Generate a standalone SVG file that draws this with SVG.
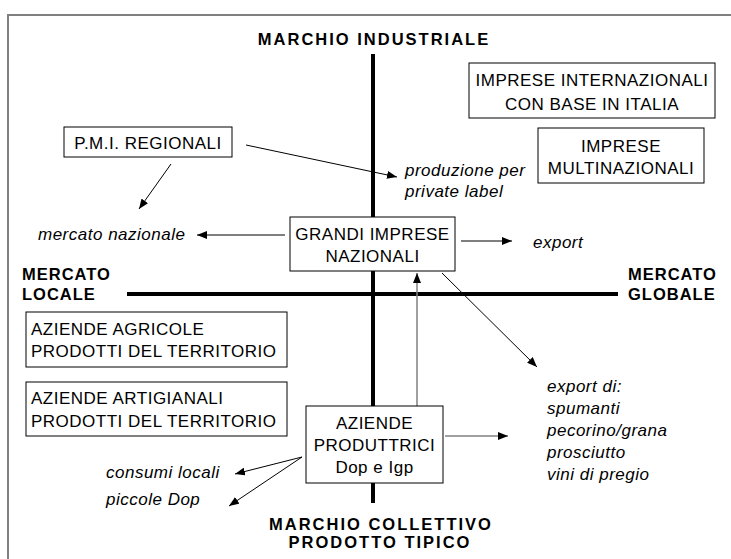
<svg xmlns="http://www.w3.org/2000/svg" width="731" height="559" viewBox="0 0 731 559">
<style>
  .box { fill: #fff; stroke: #000; stroke-width: 1; }
  .t { font-family: "Liberation Sans", Arial, sans-serif; font-size: 17px; letter-spacing: 0.5px; fill: #000; }
  .c { text-anchor: middle; }
  .i { font-family: "Liberation Sans", Arial, sans-serif; font-size: 17px; font-style: italic; letter-spacing: 0.5px; fill: #000; }
  .ax { font-family: "Liberation Sans", Arial, sans-serif; font-size: 16.5px; font-weight: bold; letter-spacing: 2px; fill: #000; }
  .mk { font-family: "Liberation Sans", Arial, sans-serif; font-size: 16.5px; font-weight: bold; letter-spacing: 1px; fill: #000; }
  .axis { stroke: #000; stroke-width: 4; }
  .arr { stroke: #000; stroke-width: 1; fill: none; marker-end: url(#ah); }
  .arrg { stroke: #808080; stroke-width: 1.5; fill: none; marker-end: url(#ah); }
</style>
<defs>
  <marker id="ah" viewBox="0 0 10 8" refX="10" refY="4" markerWidth="10" markerHeight="8" markerUnits="userSpaceOnUse" orient="auto">
    <path d="M0,0 L10,4 L0,8 z" fill="#000"/>
  </marker>
</defs>
<rect width="731" height="559" fill="#fff"/>
<path d="M8,559 V15 H731" fill="none" stroke="#808080" stroke-width="2"/>

<g id="axes">
  <line class="axis" x1="373" y1="54" x2="373" y2="503"/>
  <line class="axis" x1="127" y1="294" x2="618" y2="294"/>
  <text class="ax c" x="374" y="45">MARCHIO INDUSTRIALE</text>
  <text class="ax c" x="381" y="530">MARCHIO COLLETTIVO</text>
  <text class="ax c" x="380" y="548">PRODOTTO TIPICO</text>
  <text class="mk" x="22" y="280">MERCATO</text>
  <text class="mk" x="22" y="300">LOCALE</text>
  <text class="mk" x="628" y="280">MERCATO</text>
  <text class="mk" x="628" y="300">GLOBALE</text>
</g>

<g id="connectors">
  <line class="arr" x1="246" y1="145" x2="397" y2="177"/>
  <line class="arr" x1="171" y1="164" x2="139" y2="209"/>
  <line class="arr" x1="285" y1="235" x2="197" y2="235"/>
  <line class="arr" x1="461" y1="241" x2="512" y2="241"/>
  <line class="arrg" x1="417" y1="406" x2="417" y2="273"/>
  <line class="arr" x1="442" y1="273" x2="537" y2="367"/>
  <line class="arrg" x1="445" y1="436" x2="508" y2="436"/>
  <line class="arr" x1="302" y1="457" x2="235" y2="474"/>
  <line class="arr" x1="302" y1="457" x2="229" y2="506"/>
</g>

<g id="imprese-internazionali">
  <rect class="box" x="469" y="63" width="246" height="55"/>
  <text class="t c" x="592" y="86">IMPRESE INTERNAZIONALI</text>
  <text class="t c" x="592" y="110">CON BASE IN ITALIA</text>
</g>
<g id="imprese-multinazionali">
  <rect class="box" x="538" y="128" width="166" height="55"/>
  <text class="t c" x="621" y="152">IMPRESE</text>
  <text class="t c" x="621" y="174">MULTINAZIONALI</text>
</g>
<g id="pmi-regionali">
  <rect class="box" x="64" y="127" width="168" height="30"/>
  <text class="t c" x="148" y="149">P.M.I. REGIONALI</text>
</g>
<g id="grandi-imprese">
  <rect class="box" x="290" y="217" width="165" height="54"/>
  <text class="t c" x="372.5" y="240">GRANDI IMPRESE</text>
  <text class="t c" x="372.5" y="262">NAZIONALI</text>
</g>
<g id="aziende-agricole">
  <rect class="box" x="26" y="312" width="261" height="55"/>
  <text class="t" x="31" y="335">AZIENDE AGRICOLE</text>
  <text class="t" x="31" y="357">PRODOTTI DEL TERRITORIO</text>
</g>
<g id="aziende-artigianali">
  <rect class="box" x="26" y="382" width="261" height="54"/>
  <text class="t" x="31" y="404">AZIENDE ARTIGIANALI</text>
  <text class="t" x="31" y="427">PRODOTTI DEL TERRITORIO</text>
</g>
<g id="aziende-produttrici">
  <rect class="box" x="306" y="406" width="137" height="77"/>
  <text class="t c" x="374.5" y="429">AZIENDE</text>
  <text class="t c" x="374.5" y="451">PRODUTTRICI</text>
  <text class="t c" x="374.5" y="473">Dop e Igp</text>
</g>

<g id="produzione-private-label">
  <text class="i" x="405" y="176">produzione per</text>
  <text class="i" x="405" y="197">private label</text>
</g>
<g id="mercato-nazionale">
  <text class="i" x="38" y="240">mercato nazionale</text>
</g>
<g id="export">
  <text class="i" x="533" y="248">export</text>
</g>
<g id="export-di">
  <text class="i" x="547" y="392">export di:</text>
  <text class="i" x="547" y="414">spumanti</text>
  <text class="i" x="547" y="436">pecorino/grana</text>
  <text class="i" x="547" y="458">prosciutto</text>
  <text class="i" x="547" y="480">vini di pregio</text>
</g>
<g id="consumi-locali">
  <text class="i" x="106" y="478">consumi locali</text>
  <text class="i" x="106" y="505">piccole Dop</text>
</g>
</svg>
